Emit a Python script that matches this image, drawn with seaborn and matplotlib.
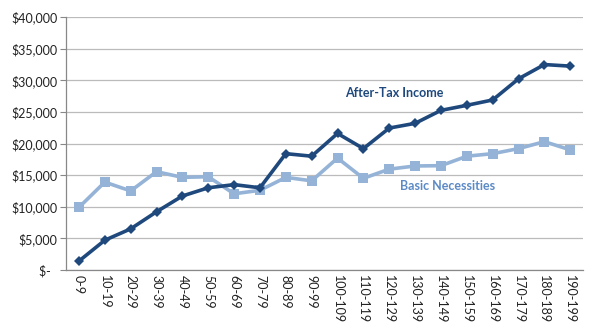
import matplotlib
matplotlib.use("Agg")
import matplotlib.pyplot as plt
import seaborn as sns
import pandas as pd
from matplotlib.ticker import FuncFormatter

categories = ["0-9", "10-19", "20-29", "30-39", "40-49", "50-59", "60-69", "70-79",
              "80-89", "90-99", "100-109", "110-119", "120-129", "130-139", "140-149",
              "150-159", "160-169", "170-179", "180-189", "190-199"]
after_tax = [1400, 4700, 6500, 9200, 11700, 13000, 13500, 13000, 18400, 18000,
             21600, 19200, 22450, 23200, 25250, 26050, 26900, 30250, 32500, 32250]
basic = [9900, 13900, 12500, 15550, 14650, 14750, 12050, 12600, 14650, 14100,
         17700, 14500, 15950, 16450, 16500, 18000, 18400, 19200, 20300, 19000]
yticks = [0, 5000, 10000, 15000, 20000, 25000, 30000, 35000, 40000]

sns.set_theme(style="white")
plt.rcParams['font.family'] = ['Lato', 'DejaVu Sans']

dark = "#1F497D"
light = "#95B3D7"

df = pd.DataFrame({"cat": categories, "After-Tax Income": after_tax, "Basic Necessities": basic})
df["x"] = range(len(categories))

fig = plt.figure(figsize=(6, 3.3), dpi=100)
ax = fig.add_axes([0.11, 0.182, 0.862, 0.766])

sns.lineplot(data=df, x="x", y="Basic Necessities", ax=ax, color=light, lw=2.6,
             marker="s", markersize=7, markeredgewidth=0, zorder=3)
sns.lineplot(data=df, x="x", y="After-Tax Income", ax=ax, color=dark, lw=2.6,
             marker="D", markersize=5.5, markeredgewidth=0, zorder=4)

ax.set_xlim(-0.5, len(categories) - 0.5)
ax.set_ylim(0, 40000)
ax.set_yticks(yticks)
ax.yaxis.set_major_formatter(FuncFormatter(lambda v, p: "$-  " if v == 0 else f"${v:,.0f}"))
ax.set_xticks(df["x"])
ax.set_xticklabels(categories, rotation=270, fontsize=9, color="#222222")
ax.tick_params(axis="x", length=0, pad=4)
ax.tick_params(axis="y", length=4, width=0.8, color="#888888", labelsize=9,
               labelcolor="#222222", left=True, pad=2)
ax.grid(axis="y", color="#BBBBBB", lw=0.9)
ax.set_axisbelow(True)
for s in ["top", "right"]:
    ax.spines[s].set_visible(False)
for s in ["left", "bottom"]:
    ax.spines[s].set_color("#888888")
    ax.spines[s].set_linewidth(0.9)
ax.set_xlabel("")
ax.set_ylabel("")

ax.text(12.2, 27950, "After-Tax Income", color=dark, fontsize=9, fontweight="bold",
        ha="center", va="center")
ax.text(14.25, 13300, "Basic Necessities", color="#5B8AC6", fontsize=9, fontweight="bold",
        ha="center", va="center")

fig.savefig("out.png", dpi=100)
